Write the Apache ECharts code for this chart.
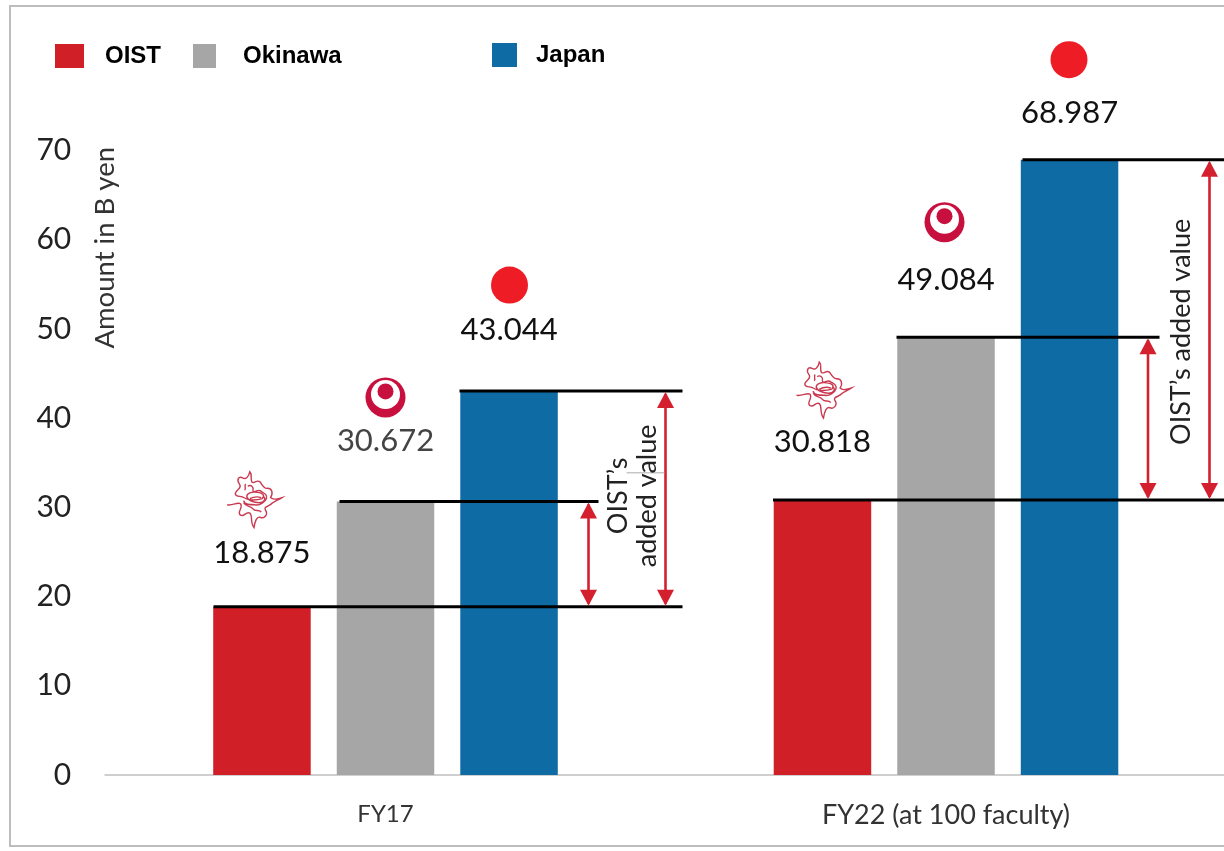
<!DOCTYPE html>
<html><head><meta charset="utf-8">
<style>html,body{margin:0;padding:0;background:#fff;overflow:hidden}#c{width:1224px;height:851px}</style>
<script src="https://cdn.jsdelivr.net/npm/echarts@6/dist/echarts.min.js"></script>
</head><body><div id="c"></div>
<script>
const categories = ['FY17', 'FY22 (at 100 faculty)'];
const oist = [18.875, 30.818];
const okinawa = [30.672, 49.084];
const japan = [43.044, 68.987];
const yTicks = [0, 10, 20, 30, 40, 50, 60, 70];

const colors = { oist: '#d01f27', okinawa: '#a6a6a6', japan: '#0f6ba3' };
const FONT = 'Lato, "Open Sans", sans-serif';
const BAR_W = 97.5;

// vertical px gap between a bar top and its value label / icon centre
const labelGaps = { oist: [54, 59], okinawa: [61, 58], japan: [62, 47] };
const iconGaps = { oist: [107, 110], okinawa: [104, 115], japan: [106, 100] };
const labelColors = { okinawa: ['#444', '#111'] };

const squiggle = 'M4 33 C10 34 14 30 17 32 C20 36 13 40 17 43 C21 45 22 39 26 41 C29 44 26 50 30 55 C31 48 33 44 36 45 C40 47 44 42 41 38 C39 34 45 35 48 31 C51 29 54 28 57 26 C50 28 48 28 46 26 C49 21 47 17 43 17 C40 18 38 14 36 11 C33 8 30 13 28 11 C26 8 29 4 26 1 C25 6 22 9 19 7 C15 5 13 9 16 13 C19 17 13 18 12 22 C12 26 18 24 20 26 C24 29 32 29 38 27 C41 24 38 21 33 21 C28 20 23 22 23 25 C24 29 30 31 35 31 C40 31 42 27 39 25 M24 15 C27 13 30 16 29 19 C29 23 34 17 37 20 C40 22 43 23 42 27 C41 30 36 34 31 33 C26 33 21 33 20 29 M20 31 C22 35 27 34 29 37 C31 40 35 37 37 40 M21 19 C23 17 20 15 22 13 M26 27 C30 25 34 25 37 26';

function bandCoord(api, cat, val, dx) {
  const p = api.coord([cat, val]);
  return [p[0] + dx, p[1]];
}
function hLine(a, b) {
  return { type: 'line', shape: { x1: a[0], y1: a[1], x2: b[0], y2: b[1] }, style: { stroke: '#000', lineWidth: 3 } };
}
function arrow(api, cat, v1, v2, dx) {
  const a = bandCoord(api, cat, v1, dx), b = bandCoord(api, cat, v2, dx);
  const red = '#d4202e', w = 8.5, h = 17, gap = 3;
  return [
    { type: 'line', shape: { x1: a[0], y1: a[1] - gap, x2: b[0], y2: b[1] + gap }, style: { stroke: red, lineWidth: 2.6 } },
    { type: 'polygon', shape: { points: [[a[0], a[1] - 1], [a[0] - w, a[1] - h], [a[0] + w, a[1] - h]] }, style: { fill: red } },
    { type: 'polygon', shape: { points: [[b[0], b[1] + 1], [b[0] - w, b[1] + h], [b[0] + w, b[1] + h]] }, style: { fill: red } }
  ];
}
function vText(pos, str) {
  return { type: 'text', x: pos[0], y: pos[1], rotation: Math.PI / 2,
    style: { text: str, fill: '#222', font: '400 27px ' + FONT, textAlign: 'center', textVerticalAlign: 'middle' } };
}
function sunIcon(p) {
  return { type: 'circle', shape: { cx: p[0], cy: p[1], r: 18.5 }, style: { fill: '#ee1c25' } };
}
function okinawaIcon(p) {
  const c = '#c8103f';
  return { type: 'group', children: [
    { type: 'circle', shape: { cx: p[0], cy: p[1], r: 20 }, style: { fill: c } },
    { type: 'circle', shape: { cx: p[0], cy: p[1] - 3, r: 14.5 }, style: { fill: '#fff' } },
    { type: 'circle', shape: { cx: p[0], cy: p[1] - 6, r: 8 }, style: { fill: c } }
  ] };
}
function oistIcon(p) {
  return { type: 'path', shape: { pathData: squiggle, x: p[0] - 28, y: p[1] - 28, width: 56, height: 56 },
    style: { fill: 'none', stroke: '#c93a50', lineWidth: 1.4 } };
}

function renderAnnotations(params, api) {
  const c = params.dataIndex;
  const o = api.value(1), n = api.value(2), j = api.value(3);
  const kids = [];
  const iconAt = (dx, val, gap) => { const p = bandCoord(api, c, val, dx); return [p[0], p[1] - gap]; };
  kids.push(oistIcon(iconAt(c === 0 ? -131 : -122, o, iconGaps.oist[c])));
  kids.push(okinawaIcon(iconAt(c === 0 ? 0 : -1.5, n, iconGaps.okinawa[c])));
  kids.push(sunIcon(iconAt(c === 0 ? 124 : 123, j, iconGaps.japan[c])));
  const mid = api.coord([c, (o + j) / 2]);
  if (c === 0) {
    kids.push(hLine(bandCoord(api, c, o, -172), bandCoord(api, c, o, 297)));
    kids.push(hLine(bandCoord(api, c, n, -46), bandCoord(api, c, n, 213)));
    kids.push(hLine(bandCoord(api, c, j, 74), bandCoord(api, c, j, 297)));
    kids.push(...arrow(api, c, o, n, 203), ...arrow(api, c, o, j, 280));
    kids.push({ type: 'line', shape: { x1: mid[0] + 241, y1: mid[1] - 26, x2: mid[0] + 279, y2: mid[1] - 26 }, style: { stroke: '#aaa', lineWidth: 1 } });
    kids.push(vText([mid[0] + 233, mid[1] - 3], "OIST\u2019s"), vText([mid[0] + 262, mid[1] - 3], 'added value'));
  } else {
    kids.push(hLine(bandCoord(api, c, o, -173), bandCoord(api, c, o, 300)));
    kids.push(hLine(bandCoord(api, c, n, -49.5), bandCoord(api, c, n, 213.5)));
    kids.push(hLine(bandCoord(api, c, j, 76.5), bandCoord(api, c, j, 300)));
    kids.push(...arrow(api, c, o, n, 202), ...arrow(api, c, o, j, 263.5));
    kids.push(vText([mid[0] + 235, mid[1] + 2], "OIST\u2019s added value"));
  }
  return { type: 'group', children: kids };
}

function barSeries(name, key, values) {
  return {
    type: 'bar', name, barWidth: BAR_W, barGap: '26.7%',
    itemStyle: { color: colors[key] },
    data: values.map((v, i) => ({
      value: v,
      label: {
        show: true, position: 'top', distance: labelGaps[key][i] - 16,
        formatter: v.toFixed(3), fontFamily: FONT, fontSize: 31,
        color: (labelColors[key] || [])[i] || '#111'
      }
    }))
  };
}
function legendBlock(name, left, top, w, textGap) {
  return { show: true, data: [name], left, top, padding: 0, itemWidth: w, itemHeight: 24, icon: 'rect', selectedMode: false,
    textStyle: { fontFamily: '"Liberation Sans", Arial, sans-serif', fontWeight: 'bold', fontSize: 24, color: '#000',
      padding: [0, 0, 0, textGap - 5] } };
}

const chart = echarts.init(document.getElementById('c'), null, { renderer: 'canvas' });
chart.setOption({
  animation: false,
  backgroundColor: '#fff',
  graphic: [{ type: 'rect', z: -10, shape: { x: 10, y: 6, width: 1240, height: 840 },
    style: { fill: '#fff', stroke: '#bdbdbd', lineWidth: 2 } }],
  legend: [legendBlock('OIST', 55, 44, 29, 21), legendBlock('Okinawa', 193, 44, 23, 27), legendBlock('Japan', 492, 43, 25, 19)],
  grid: { left: 105.25, top: 150.6, width: 1121, height: 624.4, outerBoundsMode: 'none' },
  xAxis: {
    type: 'category', data: categories,
    axisTick: { show: false },
    axisLine: { lineStyle: { color: '#cfcfcf', width: 2 } },
    axisLabel: { fontFamily: FONT, fontSize: 24, color: '#333', margin: 27,
      formatter: v => v === categories[1] ? '{wide|' + v + '}' : v,
      rich: { wide: { fontFamily: FONT, fontSize: 27, color: '#333' } } }
  },
  yAxis: {
    type: 'value', min: 0, max: 70, interval: 10,
    name: 'Amount in B yen', nameLocation: 'end', nameRotate: 90, nameGap: -198,
    nameTextStyle: { fontFamily: FONT, fontSize: 27.5, color: '#333', align: 'left', verticalAlign: 'middle', padding: [13, 0, 0, 0] },
    axisLine: { show: false }, axisTick: { show: false }, splitLine: { show: false },
    axisLabel: { fontFamily: FONT, fontSize: 30, color: '#222', margin: 34,
      formatter: v => String(yTicks[yTicks.indexOf(v)]) }
  },
  series: [
    barSeries('OIST', 'oist', oist),
    barSeries('Okinawa', 'okinawa', okinawa),
    barSeries('Japan', 'japan', japan),
    {
      type: 'custom', name: 'annotations', clip: false, z: 5, silent: true,
      encode: { x: 0, y: 1 },
      data: categories.map((c, i) => [i, oist[i], okinawa[i], japan[i]]),
      renderItem: renderAnnotations
    }
  ]
});
</script></body></html>
